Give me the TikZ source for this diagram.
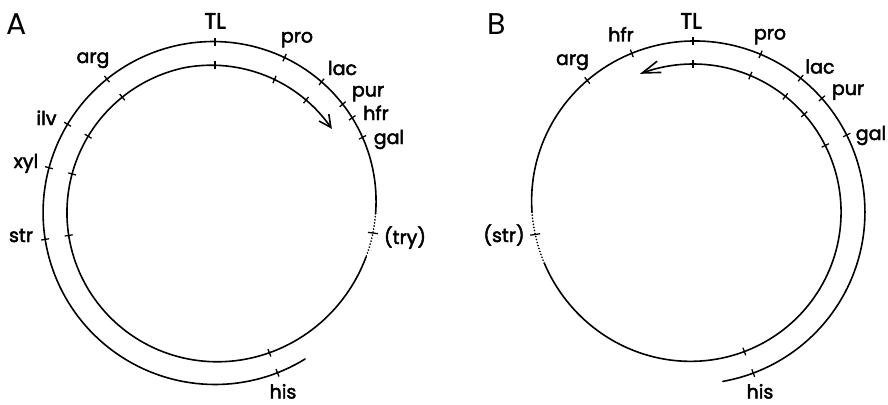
\documentclass[tikz,border=0pt]{standalone}
\usepackage{fontspec}
\setmainfont{Poppins}
\newfontfamily\lblfont{Poppins}[FakeBold=2.5]
\usetikzlibrary{arrows.meta}
\begin{document}
\begin{tikzpicture}[x=1pt,y=-1pt,
  declare function={
    rA(\p)=148+24/(1+exp(min((\p-305)/30,9)))-0.065*max(0,\p-560);
    rB(\p)=148+24/(1+exp(min((\p-265)/30,9)));
  },
  chrom/.style={line width=1.6pt, line cap=round},
  dotchrom/.style={line width=1.8pt, line cap=round, dash pattern=on 0.1pt off 3pt},
  tickmark/.style={line width=1.3pt},
  lbl/.style={anchor=base, inner sep=0pt, font=\lblfont\fontsize{19}{22}\selectfont},
  biglbl/.style={anchor=base, inner sep=0pt, font=\lblfont\fontsize{22}{24}\selectfont},
  panel/.style={anchor=base, inner sep=0pt, font=\fontsize{30}{30}\selectfont}
]
\useasboundingbox (0,0) rectangle (888,404);

% ---------------- Panel A ----------------
\draw[chrom] plot[domain=0:302, samples=152, variable=\p]
  ({215+rA(\p)*cos(-58.4-\p)}, {212.5-rA(\p)*sin(-58.4-\p)});
\draw[dotchrom] plot[domain=302:318, samples=9, variable=\p]
  ({215+rA(\p)*cos(-58.4-\p)}, {212.5-rA(\p)*sin(-58.4-\p)});
\draw[chrom, -{Straight Barb[length=12pt,width=12pt]}] plot[domain=318:626, samples=155, variable=\p]
  ({215+rA(\p)*cos(-58.4-\p)}, {212.5-rA(\p)*sin(-58.4-\p)});
\foreach \p/\d in {10.3/4,112.6/4,136.7/4,152.5/4,172.6/4,211.6/4,235.8/4,250.8/4,261.3/4,267/4,274.6/4,309/5,
                   370.4/4,472.7/4,496.7/4,512.6/4,532.8/4,571.6/4,595.7/4,610.6/4}
  \draw[tickmark] ({215+(rA(\p)-\d)*cos(-58.4-\p)}, {212.5-(rA(\p)-\d)*sin(-58.4-\p)})
               -- ({215+(rA(\p)+\d)*cos(-58.4-\p)}, {212.5-(rA(\p)+\d)*sin(-58.4-\p)});

\node[panel] (A) at (17,35) {A};
\node[biglbl] (aTL) at (215,28.5) {TL};
\node[lbl] (apro) at (297,42.5) {pro};
\node[lbl] (aarg) at (93,63) {arg};
\node[lbl] (alac) at (342.5,75) {lac};
\node[lbl] (apur) at (368,96.5) {pur};
\node[lbl] (ahfr) at (376,120) {hfr};
\node[lbl] (agal) at (389,144) {gal};
\node[lbl] (ailv) at (46.5,125) {ilv};
\node[lbl] (axyl) at (26,168) {xyl};
\node[lbl] (astr) at (21,242) {str};
\node[lbl] (atry) at (405,244) {(try)};
\node[lbl] (ahis) at (283,398.5) {his};

% ---------------- Panel B ----------------
\draw[chrom] plot[domain=0:260, samples=131, variable=\p]
  ({693+rB(\p)*cos(-80+\p)}, {212-rB(\p)*sin(-80+\p)});
\draw[dotchrom] plot[domain=260:279, samples=10, variable=\p]
  ({693+rB(\p)*cos(-80+\p)}, {212-rB(\p)*sin(-80+\p)});
\draw[chrom, -{Straight Barb[length=18pt,width=12pt]}] plot[domain=279:551, samples=137, variable=\p]
  ({693+rB(\p)*cos(-80+\p)}, {212-rB(\p)*sin(-80+\p)});
\foreach \p/\d in {10.5/4,106.6/4,121.4/4,131.2/4,146.8/4,170/4,191.1/4,208.8/4,268.1/5,
                   370.2/4,466.7/4,481.3/4,491.4/4,507.2/4,530/4}
  \draw[tickmark] ({693+(rB(\p)-\d)*cos(-80+\p)}, {212-(rB(\p)-\d)*sin(-80+\p)})
               -- ({693+(rB(\p)+\d)*cos(-80+\p)}, {212-(rB(\p)+\d)*sin(-80+\p)});

\node[panel] (B) at (497,35) {B};
\node[lbl] (bhfr) at (621,41.5) {hfr};
\node[biglbl] (bTL) at (691,28.5) {TL};
\node[lbl] (bpro) at (770,39.5) {pro};
\node[lbl] (barg) at (572.5,65) {arg};
\node[lbl] (blac) at (820,73.5) {lac};
\node[lbl] (bpur) at (848,95) {pur};
\node[lbl] (bgal) at (871,140) {gal};
\node[lbl] (bstr) at (504,242) {(str)};
\node[lbl] (bhis) at (760,398.5) {his};
\end{tikzpicture}
\end{document}
